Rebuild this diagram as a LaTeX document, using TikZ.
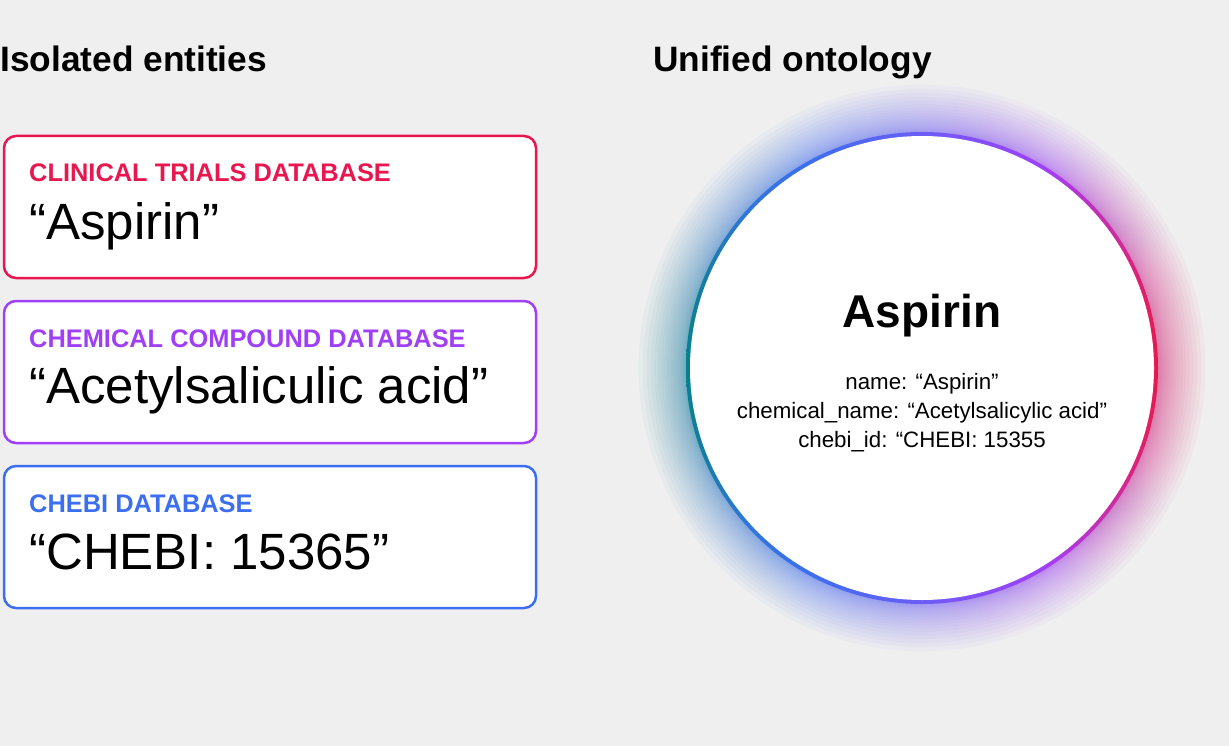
\documentclass[tikz,border=0pt]{standalone}
\usepackage{fontspec}
\setmainfont{Liberation Sans}
\definecolor{bg}{HTML}{EFEFEF}
\definecolor{cred}{HTML}{E8174F}
\definecolor{cpurple}{HTML}{A03FF8}
\definecolor{cblue}{HTML}{3C6FEF}
\definecolor{cteal}{HTML}{08808E}
\definecolor{cblue2}{HTML}{2F77D6}
\definecolor{cmid}{HTML}{6D5CF6}
\definecolor{cmag}{HTML}{D02A9A}
\pgfdeclarehorizontalshading{ringshade}{100bp}{color(0bp)=(cteal); color(25bp)=(cteal); color(31bp)=(cblue2); color(38bp)=(cblue); color(50bp)=(cmid); color(63bp)=(cpurple); color(71bp)=(cmag); color(75bp)=(cred); color(100bp)=(cred)}
\tikzset{
  dbbox/.style={draw=#1, line width=2.5pt, rounded corners=12pt, fill=white, minimum width=532pt, minimum height=142pt, anchor=north west, inner sep=0pt, outer sep=0pt},
  dblabel/.style={anchor=base west, inner sep=0pt, text=#1, font=\fontsize{25.4}{30}\selectfont\bfseries},
  dbtext/.style={anchor=base west, inner sep=0pt, font=\fontsize{51}{60}\selectfont},
  heading/.style={anchor=base west, inner sep=0pt, font=\fontsize{35.3}{42}\selectfont\bfseries},
  prop/.style={anchor=base, inner sep=0pt, font=\fontsize{22.3}{26}\selectfont},
}
\begin{document}
\begin{tikzpicture}[x=1pt,y=-1pt]
\fill[bg] (0,0) rectangle (1229,746);
\useasboundingbox (0,0) rectangle (1229,746);

% headings
\node[heading] (h1) at (0,72) {Isolated entities};
\node[heading] (h2) at (653,72) {Unified ontology};

% boxes
\node[dbbox=cred] (b1) at (4,136) {};
\node[dblabel=cred] (l1) at (29,182) {CLINICAL TRIALS DATABASE};
\node[dbtext] (t1) at (29,240) {“Aspirin”};

\node[dbbox=cpurple] (b2) at (4,301) {};
\node[dblabel=cpurple] (l2) at (29,347) {CHEMICAL COMPOUND DATABASE};
\node[dbtext] (t2) at (29,403) {“Acetylsaliculic acid”};

\node[dbbox=cblue] (b3) at (4,466) {};
\node[dblabel=cblue] (l3) at (29,512) {CHEBI DATABASE};
\node[dbtext] (t3) at (29,569) {“CHEBI: 15365”};

% glow
\coordinate (cc) at (922,368);
\foreach \k in {1,...,22}{
  \shade[shading=ringshade, opacity=0.04] (cc) circle ({235+0.1*\k*\k});
}
% gradient ring
\shade[shading=ringshade] (cc) circle (236);
\node[circle, fill=white, minimum size=464pt, inner sep=0pt] (onto) at (cc) {};

% circle text
\node[anchor=base, inner sep=0pt, font=\fontsize{46}{54}\selectfont\bfseries] (title) at (922,327) {Aspirin};
\node[prop] (p1) at (922,389) {name: “Aspirin”};
\node[prop] (p2) at (922,418) {chemical\_name: “Acetylsalicylic acid”};
\node[prop] (p3) at (922,447) {chebi\_id: “CHEBI: 15355};
\end{tikzpicture}
\end{document}
